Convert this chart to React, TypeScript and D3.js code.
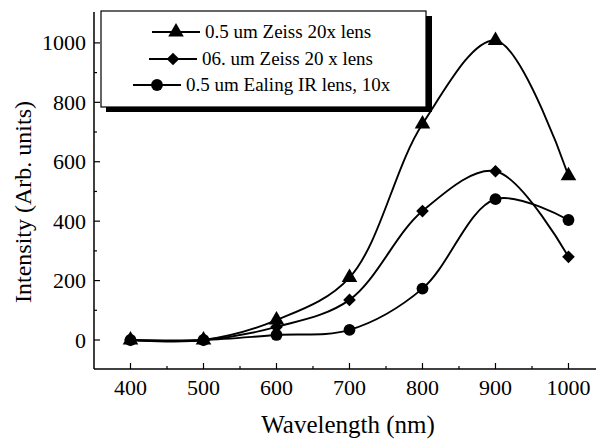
import * as d3 from 'd3'
import { useEffect, useRef } from 'react'

const wavelengths = [400, 500, 600, 700, 800, 900, 1000]
const zeiss05 = [0, 0, 67, 210, 727, 1008, 553]
const zeiss06 = [0, 0, 44, 135, 434, 568, 280]
const ealing05 = [0, 0, 17, 34, 173, 474, 404]
const seriesNames = ['0.5 um Zeiss 20x lens', '06. um Zeiss 20 x lens', '0.5 um Ealing IR lens, 10x']
const xTicks = [400, 500, 600, 700, 800, 900, 1000]
const yTicks = [0, 200, 400, 600, 800, 1000]

type Pt = [number, number]

export default function App() {
  const svgRef = useRef<SVGSVGElement | null>(null)

  useEffect(() => {
    document.body.style.margin = '0'
    document.body.style.overflow = 'hidden'
    if (!svgRef.current) return
    const width = 596
    const height = 439
    const left = 94
    const right = 596
    const top = 12
    const bottom = 369
    const font = "'Liberation Serif', 'Times New Roman', serif"

    const svg = d3.select(svgRef.current)
    svg.selectAll('*').remove()
    svg.attr('width', width).attr('height', height)

    const x = d3.scaleLinear().domain([350, 1037.7]).range([left, right])
    const y = d3.scaleLinear().domain([-97.6, 1104]).range([bottom, top])

    // axes (only left and bottom, ticks inward)
    svg.append('line').attr('x1', left).attr('x2', right).attr('y1', bottom).attr('y2', bottom)
      .attr('stroke', '#000').attr('stroke-width', 1.5)
    svg.append('line').attr('x1', left).attr('x2', left).attr('y1', top).attr('y2', bottom)
      .attr('stroke', '#000').attr('stroke-width', 1.5)

    const xMinor = d3.range(450, 1001, 100)
    svg.selectAll('.xt').data(xTicks).join('line')
      .attr('x1', d => x(d)).attr('x2', d => x(d)).attr('y1', bottom).attr('y2', bottom - 6)
      .attr('stroke', '#000').attr('stroke-width', 1.2)
    svg.selectAll('.xm').data(xMinor).join('line')
      .attr('x1', d => x(d)).attr('x2', d => x(d)).attr('y1', bottom).attr('y2', bottom - 3)
      .attr('stroke', '#000').attr('stroke-width', 1.2)
    svg.selectAll('.xl').data(xTicks).join('text')
      .attr('x', d => x(d)).attr('y', bottom + 26)
      .attr('text-anchor', 'middle').attr('font-family', font).attr('font-size', 22)
      .text(d => d)

    const yMinor = d3.range(100, 1001, 200)
    svg.selectAll('.yt').data(yTicks).join('line')
      .attr('x1', left).attr('x2', left + 6).attr('y1', d => y(d)).attr('y2', d => y(d))
      .attr('stroke', '#000').attr('stroke-width', 1.2)
    svg.selectAll('.ym').data(yMinor).join('line')
      .attr('x1', left).attr('x2', left + 3).attr('y1', d => y(d)).attr('y2', d => y(d))
      .attr('stroke', '#000').attr('stroke-width', 1.2)
    svg.selectAll('.yl').data(yTicks).join('text')
      .attr('x', left - 8).attr('y', d => y(d) + 7.5)
      .attr('text-anchor', 'end').attr('font-family', font).attr('font-size', 22)
      .text(d => d)

    svg.append('text').attr('x', 348).attr('y', 433)
      .attr('text-anchor', 'middle').attr('font-family', font).attr('font-size', 25)
      .text('Wavelength (nm)')
    svg.append('text').attr('transform', 'translate(31,202) rotate(-90)')
      .attr('text-anchor', 'middle').attr('font-family', font).attr('font-size', 24)
      .text('Intensity (Arb. units)')

    const all = [zeiss05, zeiss06, ealing05]
    const shapes = [d3.symbolTriangle, d3.symbolSquare, d3.symbolCircle]
    const sizes = [105, 80, 110]
    const rot = ['', ' rotate(45)', '']
    const line = d3.line<Pt>().x(d => x(d[0])).y(d => y(d[1])).curve(d3.curveCatmullRom.alpha(0.5))

    all.forEach((vals, i) => {
      const pts: Pt[] = wavelengths.map((w, j) => [w, vals[j]])
      svg.append('path').datum(pts).attr('d', line)
        .attr('fill', 'none').attr('stroke', '#000').attr('stroke-width', 1.9)
      const sym = d3.symbol().type(shapes[i]).size(sizes[i])
      svg.selectAll(`.m${i}`).data(pts).join('path')
        .attr('transform', d => `translate(${x(d[0])},${y(d[1])})${rot[i]}`)
        .attr('d', sym()).attr('fill', '#000')
    })

    // legend box with drop shadow
    const lg = svg.append('g')
    lg.append('rect').attr('x', 106).attr('y', 16).attr('width', 326).attr('height', 96).attr('fill', '#000')
    lg.append('rect').attr('x', 101).attr('y', 11).attr('width', 325).attr('height', 96)
      .attr('fill', '#fff').attr('stroke', '#000').attr('stroke-width', 1.2)
    const rowY = [32, 59, 85]
    const lineStart = [152, 149, 133]
    seriesNames.forEach((name, i) => {
      const x0 = lineStart[i]
      lg.append('line').attr('x1', x0).attr('x2', x0 + 48).attr('y1', rowY[i]).attr('y2', rowY[i])
        .attr('stroke', '#000').attr('stroke-width', 1.9)
      lg.append('path').attr('transform', `translate(${x0 + 24},${rowY[i]})${rot[i]}`)
        .attr('d', d3.symbol().type(shapes[i]).size(sizes[i])()).attr('fill', '#000')
      lg.append('text').attr('x', x0 + 53).attr('y', rowY[i] + 6)
        .attr('font-family', font).attr('font-size', 19).text(name)
    })
  }, [])

  return (
    <div>
      <svg ref={svgRef} style={{ display: 'block', background: '#fff' }} />
    </div>
  )
}
